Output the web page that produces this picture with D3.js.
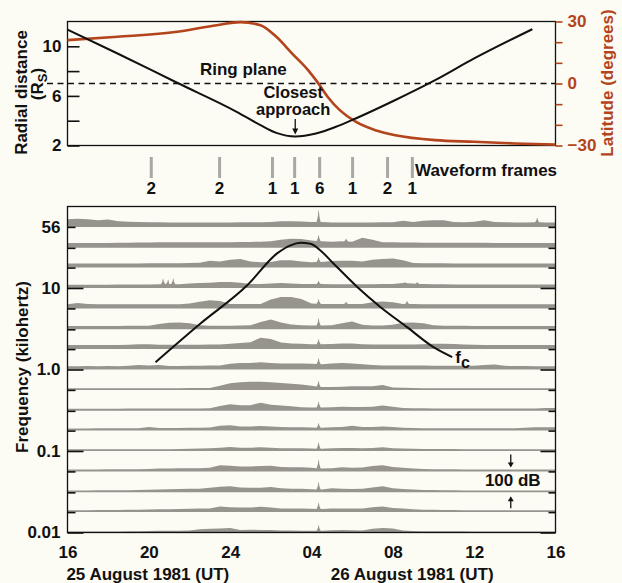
<!DOCTYPE html>
<html><head><meta charset="utf-8">
<script src="https://cdn.jsdelivr.net/npm/d3@7"></script>
<style>
html,body{margin:0;padding:0;background:#fcfbf4;}
svg{display:block;}
text{font-family:"Liberation Sans",Arial,Helvetica,sans-serif;font-weight:bold;}
</style></head><body>
<svg id="chart" width="622" height="583"></svg>
<script>
// ---------------- DATA ----------------
// time axis: hours after 16:00 UT, 25 August 1981
const hourTicks = [0,4,8,12,16,20,24];
const hourLabels = ["16","20","24","04","08","12","16"];
const dayLabels = ["25 August 1981 (UT)","26 August 1981 (UT)"];
const dayLabelT = [3.95,16.95];

// top panel: radial distance (Rs)
const radialT = [0,2.46,5.39,8.32,9.49,10.27,11.2,12.22,13.2,14.17,16.1,18.08,20.0,22.86];
const radialR = [11.35,9.42,7.06,4.72,3.64,3.02,2.73,2.97,3.51,4.18,5.65,7.27,9.02,11.38];
const radialTicks = [2,4,6,8,10];
const radialLabels = [2,6,10];
// top panel: latitude (degrees)
const latT = [0,2.46,5.39,7.34,8.5,9.49,10.27,11.05,11.83,12.32,12.8,13.39,14.17,15.14,16.12,18.08,20.0,21.98,24];
const latV = [21.0,22.6,25.0,28.2,29.7,28.2,22.6,14.5,6.5,0.3,-6.5,-12.9,-18.5,-22.6,-25.0,-27.4,-28.2,-29.0,-29.6];
const latTicks = [-30,-20,-10,0,10,20,30];
const latLabels = [-30,0,30];
const closestT = 11.2;

// waveform frames
const frameT = [4.12,7.48,10.08,11.17,12.4,14.02,15.74,16.96];
const frameN = ["2","2","1","1","6","1","2","1"];

// electron cyclotron frequency fc (kHz)
const fcT = [4.33,6.54,8.84,10.31,10.97,11.46,11.95,12.44,13.08,14.25,15.4,16.7,18.0,18.92];
const fcV = [1.23,3.67,10.8,26.6,33.4,35.8,35.0,28.9,20.0,10.3,5.82,3.31,1.88,1.42];

// spectrum analyzer channels (kHz)
const channelKHz = [0.01,0.0178,0.0311,0.0562,0.1,0.178,0.311,0.562,1,1.78,3.11,5.62,10,17.8,31.1,56.2];
const freqMajor = [0.01,0.1,1,10];
const freqLabelVal = [0.01,0.1,1,10,56.2];
const freqLabelTxt = ["0.01","0.1","1.0","10","56"];

// channel intensities (dB) sampled every 0.5 h from 16:00 (49 samples)
const sampleStep = 0.5;
const db10Hz   = [5,5,5,5,5,5,6,6,7,8, 8,9,10,16,18,20,22,12,14,12, 12,10,10,9,9,8,11,12,11,10, 18,22,20,10,7,6,6,6,6,6, 5,5,5,5,5,5,5,5,5];
const db17Hz   = [9,9,9,10,10,10,11,12,13,14, 14,15,16,17,18,28,24,22,22,26, 22,18,18,17,16,15,18,18,17,18, 24,28,20,17,14,12,11,10,10,9, 9,9,9,9,9,9,9,9,9];
const db31Hz   = [9,9,9,10,10,10,10,11,13,14, 15,16,17,18,22,28,30,24,22,22, 26,20,18,17,15,14,20,18,16,17, 24,30,20,16,14,12,11,10,10,9, 9,9,9,9,9,9,9,9,9];
const db56Hz   = [9,9,9,9,10,10,10,11,12,14, 14,15,16,16,18,30,28,24,24,26, 28,22,20,20,18,14,16,20,18,19, 26,30,22,18,14,12,11,10,10,9, 9,9,9,9,9,9,9,9,9];
const db100Hz  = [8,8,8,8,8,8,8,8,8,8, 9,10,11,12,13,16,20,16,16,18, 16,14,14,13,12,11,14,15,15,14, 15,18,14,12,11,10,10,10,10,9, 9,9,9,9,9,9,9,9,9];
const db178Hz  = [10,10,10,11,11,11,12,12,18,13, 13,13,14,14,15,24,26,20,20,22, 20,17,16,16,15,14,16,18,24,18, 17,20,18,14,13,12,12,12,12,12, 11,11,11,11,11,14,16,16,16];
const db311Hz  = [10,10,10,10,10,10,11,12,12,12, 12,12,12,12,13,24,32,28,28,40, 30,26,22,18,16,16,18,20,19,19, 20,26,20,14,13,13,12,12,12,12, 12,12,12,12,12,12,12,14,14];
const db562Hz  = [8,8,8,8,8,8,8,8,8,8, 8,8,9,9,9,20,32,38,40,40, 37,34,30,26,20,14,14,16,18,18, 18,24,12,10,9,8,8,8,8,8, 8,8,8,8,8,8,8,8,8];
const db1k     = [16,16,17,16,17,16,18,22,20,22, 17,17,18,18,19,20,28,32,32,36, 32,30,30,30,28,26,30,32,30,26, 22,20,20,19,19,19,18,18,18,18, 18,22,24,18,17,17,16,16,16];
const db1k78   = [20,20,20,20,20,20,21,24,24,21, 21,21,21,21,22,22,26,30,34,56, 50,32,28,26,24,24,25,28,28,24, 22,22,22,22,22,24,26,26,25,22, 21,20,20,20,20,20,20,20,20];
const db3k11   = [16,16,16,16,16,16,17,17,18,26, 32,33,30,20,18,18,18,19,20,36, 48,34,24,20,19,19,20,30,38,22, 19,19,22,32,33,30,20,17,17,17, 16,16,16,16,16,16,16,16,16];
const db5k62   = [20,26,22,20,20,20,20,20,20,20, 20,20,24,32,40,36,22,21,21,22, 44,56,56,46,24,22,22,22,21,21, 30,34,30,22,21,20,20,20,20,20, 20,20,20,20,20,20,20,20,20];
const db10k    = [16,16,16,16,16,17,17,17,17,18, 20,18,22,24,26,30,30,26,20,20, 22,24,22,20,19,19,18,18,18,18, 18,19,20,24,22,19,18,18,17,17, 17,17,17,17,17,17,17,17,17];
const db17k8   = [20,20,20,20,20,20,20,20,21,21, 21,21,22,24,34,30,38,42,30,26, 28,36,36,30,26,28,32,34,33,30, 38,42,44,36,22,21,21,21,20,20, 20,20,20,20,20,20,20,20,20];
const db31k1   = [24,24,24,24,24,25,25,26,26,27, 27,27,27,27,28,28,28,29,29,30, 32,40,44,43,36,32,30,32,30,50, 40,28,27,26,26,25,25,25,25,25, 25,25,24,24,24,24,24,24,24];
const db56k2   = [38,40,38,32,36,28,25,24,23,23, 22,22,22,22,22,22,22,23,23,23, 24,28,28,26,24,24,22,22,22,22, 22,23,23,30,24,30,32,32,24,23, 25,32,24,23,22,22,23,22,22];
// narrow spikes [hour, dB] per channel
const spikes10Hz=[[12.35,36]], spikes17Hz=[[12.35,46]], spikes31Hz=[[12.35,49]], spikes56Hz=[[12.35,57]];
const spikes100Hz=[[12.35,42]], spikes178Hz=[[12.35,36]], spikes311Hz=[[12.35,45]], spikes562Hz=[[12.35,44]];
const spikes1k=[[12.35,55]], spikes1k78=[[12.35,48]], spikes3k11=[[12.35,54]], spikes5k62=[[12.35,45],[13.7,32],[16.7,36]];
const spikes10k=[[4.7,45],[4.95,40],[5.2,46],[12.35,35],[16.6,28],[17.2,28]];
const spikes17k8=[[12.35,50]], spikes31k1=[[12.35,62],[13.7,45]], spikes56k2=[[12.35,82],[23.1,45]];

const channelDb = [db10Hz,db17Hz,db31Hz,db56Hz,db100Hz,db178Hz,db311Hz,db562Hz,db1k,db1k78,db3k11,db5k62,db10k,db17k8,db31k1,db56k2];
const channelSpikes = [spikes10Hz,spikes17Hz,spikes31Hz,spikes56Hz,spikes100Hz,spikes178Hz,spikes311Hz,spikes562Hz,spikes1k,spikes1k78,spikes3k11,spikes5k62,spikes10k,spikes17k8,spikes31k1,spikes56k2];

// ---------------- DRAWING ----------------
const RED = "#b3441c", GRAY = "#97938d";
const svg = d3.select("#chart");
svg.append("rect").attr("width",622).attr("height",583).attr("fill","#fcfbf4");

const x0 = 67.5, x1 = 555.5;
const x = d3.scaleLinear().domain([0,24]).range([x0,x1]);
const topY0 = 21.5, topY1 = 145.5;
const yR = d3.scaleLinear().domain([2,12]).range([topY1,topY0]);
const yLat = d3.scaleLinear().domain([-30,30]).range([topY1,topY0]);
const botY0 = 206.5, botY1 = 532.5;
const yF = d3.scaleLog().domain([0.01,100]).range([botY1,botY0]);

// ---- bottom panel strips
const pxPerDb = (yF(channelKHz[0]) - yF(channelKHz[1])) / 100;
const sampleT = channelDb[0].map((_,i)=>i*sampleStep);
function baseAt(arr,t){
  const p=t/sampleStep, i=Math.max(0,Math.min(arr.length-2,Math.floor(p))), f=p-i;
  return arr[i]*(1-f)+arr[i+1]*f;
}
const stripG = svg.append("g");
channelKHz.forEach((f,ci)=>{
  const arr = channelDb[ci];
  let pts = sampleT.map((t,i)=>({t, v:arr[i]}));
  channelSpikes[ci].forEach(([ts,s])=>{
    const bl = baseAt(arr,ts-0.1), br = baseAt(arr,ts+0.1);
    pts.push({t:ts-0.1,v:bl},{t:ts-0.035,v:(bl+s)/2},{t:ts-0.01,v:s},{t:ts+0.01,v:s},{t:ts+0.035,v:(br+s)/2},{t:ts+0.1,v:br});
  });
  pts.sort((a,b)=>a.t-b.t);
  const yb = yF(f);
  stripG.append("path").datum(pts)
    .attr("d", d3.area().x(d=>x(d.t)).y0(yb).y1(d=>yb - d.v*pxPerDb))
    .attr("fill", GRAY);
});

// boxes
svg.append("rect").attr("x",x0).attr("y",topY0).attr("width",x1-x0).attr("height",topY1-topY0)
  .attr("fill","none").attr("stroke","#111").attr("stroke-width",1.3);
svg.append("rect").attr("x",x0).attr("y",botY0).attr("width",x1-x0).attr("height",botY1-botY0)
  .attr("fill","none").attr("stroke","#111").attr("stroke-width",1.3);

function styleAxis(g,color){
  g.attr("font-size",17).attr("font-family",null);
  g.select(".domain").remove();
  g.selectAll(".tick line").attr("stroke",color).attr("stroke-width",1.6);
  g.selectAll(".tick text").attr("fill",color);
}

// top left axis
const gTL = svg.append("g").attr("transform",`translate(${x0},0)`)
  .call(d3.axisLeft(yR).tickValues(radialTicks).tickSize(-12).tickPadding(6)
    .tickFormat(d=>radialLabels.includes(d)?String(d):""));
styleAxis(gTL,"#111");
// top right axis
const gTR = svg.append("g").attr("transform",`translate(${x1},0)`)
  .call(d3.axisRight(yLat).tickValues(latTicks).tickSize(7).tickPadding(5)
    .tickFormat(d=>latLabels.includes(d)?(d<0?"\u2212"+(-d):String(d)):""));
styleAxis(gTR,RED);

// ring plane dashed line
svg.append("line").attr("x1",47).attr("x2",x1).attr("y1",yLat(0)).attr("y2",yLat(0))
  .attr("stroke","#111").attr("stroke-width",1.6).attr("stroke-dasharray","6,4.5");

// latitude curve
svg.append("path").datum(latT.map((t,i)=>[t,latV[i]]))
  .attr("d", d3.line().x(d=>x(d[0])).y(d=>yLat(d[1])).curve(d3.curveMonotoneX))
  .attr("fill","none").attr("stroke",RED).attr("stroke-width",2.6);
// radial distance curve
svg.append("path").datum(radialT.map((t,i)=>[t,radialR[i]]))
  .attr("d", d3.line().x(d=>x(d[0])).y(d=>yR(d[1])).curve(d3.curveMonotoneX))
  .attr("fill","none").attr("stroke","#111").attr("stroke-width",2);

// top annotations
svg.append("text").attr("x",x(8.65)).attr("y",yLat(0)-8.5).attr("text-anchor","middle")
  .attr("font-size",17).attr("fill","#111").text("Ring plane");
const cx = x(closestT)-2;
svg.append("text").attr("x",cx).attr("y",98).attr("text-anchor","middle")
  .attr("font-size",16.5).attr("fill","#111").text("Closest");
svg.append("text").attr("x",cx).attr("y",115).attr("text-anchor","middle")
  .attr("font-size",16.5).attr("fill","#111").text("approach");
const ax = x(closestT), tipY = yR(2.73)-2;
svg.append("line").attr("x1",ax).attr("x2",ax).attr("y1",119).attr("y2",tipY-4)
  .attr("stroke","#111").attr("stroke-width",1.3);
svg.append("path").attr("d",`M${ax-3},${tipY-6}L${ax+3},${tipY-6}L${ax},${tipY}Z`).attr("fill","#111");

// top axis titles
svg.append("text").attr("transform",`translate(26.5,92.5) rotate(-90)`).attr("text-anchor","middle")
  .attr("font-size",17).attr("fill","#111").text("Radial distance");
const rs = svg.append("text").attr("transform",`translate(42.5,84) rotate(-90)`).attr("text-anchor","middle")
  .attr("font-size",17).attr("fill","#111");
rs.append("tspan").text("(R");
rs.append("tspan").attr("font-size",13).attr("dy",4).text("S");
rs.append("tspan").attr("dy",-4).text(")");
svg.append("text").attr("transform",`translate(613,83) rotate(-90)`).attr("text-anchor","middle")
  .attr("font-size",17).attr("fill",RED).text("Latitude (degrees)");

// waveform frames
svg.append("g").selectAll("rect").data(frameT).join("rect")
  .attr("x",d=>x(d)-1.5).attr("y",157).attr("width",3).attr("height",21).attr("fill","#a9a8a4");
svg.append("g").selectAll("text").data(frameT).join("text")
  .attr("x",d=>x(d)).attr("y",194).attr("text-anchor","middle").attr("font-size",17).attr("fill","#111")
  .text((d,i)=>frameN[i]);
svg.append("text").attr("x",415).attr("y",176).attr("font-size",17).attr("fill","#111").text("Waveform frames");

// bottom left axis
const gBL = svg.append("g").attr("transform",`translate(${x0},0)`)
  .call(d3.axisLeft(yF).tickValues(channelKHz).tickSize(-8).tickPadding(7)
    .tickFormat(d=>{const i=freqLabelVal.indexOf(d);return i>=0?freqLabelTxt[i]:"";}));
styleAxis(gBL,"#111");
gBL.selectAll(".tick line").filter(d=>freqMajor.includes(d)).attr("x2",16);
// bottom right axis
const gBR = svg.append("g").attr("transform",`translate(${x1},0)`)
  .call(d3.axisRight(yF).tickValues(channelKHz).tickSize(-7).tickFormat(()=>""));
styleAxis(gBR,"#111");
gBR.selectAll(".tick line").filter(d=>freqMajor.includes(d)).attr("x2",-15);

// bottom x axis
const gX = svg.append("g").attr("transform",`translate(0,${botY1})`)
  .call(d3.axisBottom(x).tickValues(hourTicks).tickSize(0).tickPadding(13)
    .tickFormat((d,i)=>hourLabels[i]));
styleAxis(gX,"#111");
svg.append("g").selectAll("text").data(dayLabels).join("text")
  .attr("x",(d,i)=>x(dayLabelT[i])).attr("y",580).attr("text-anchor","middle")
  .attr("font-size",17).attr("fill","#111").text(d=>d);

svg.append("text").attr("transform",`translate(28,367) rotate(-90)`).attr("text-anchor","middle")
  .attr("font-size",17).attr("fill","#111").text("Frequency (kilohertz)");

// fc curve
svg.append("path").datum(fcT.map((t,i)=>[t,fcV[i]]))
  .attr("d", d3.line().x(d=>x(d[0])).y(d=>yF(d[1])).curve(d3.curveMonotoneX))
  .attr("fill","none").attr("stroke","#111").attr("stroke-width",2);
const fcl = svg.append("text").attr("x",x(fcT[fcT.length-1])+3).attr("y",yF(fcV[fcV.length-1])+6)
  .attr("font-size",17).attr("fill","#111");
fcl.append("tspan").text("f");
fcl.append("tspan").attr("dy",5).attr("font-size",16).text("c");

// 100 dB scale
const sx = x(21.8);
const yTopL = yF(0.0562), yBotL = yF(0.0311);
svg.append("line").attr("x1",sx).attr("x2",sx).attr("y1",yTopL-17).attr("y2",yTopL-8).attr("stroke","#111").attr("stroke-width",1.3);
svg.append("path").attr("d",`M${sx-3},${yTopL-9}L${sx+3},${yTopL-9}L${sx},${yTopL-4}Z`).attr("fill","#111");
svg.append("line").attr("x1",sx).attr("x2",sx).attr("y1",yBotL+16).attr("y2",yBotL+8).attr("stroke","#111").attr("stroke-width",1.3);
svg.append("path").attr("d",`M${sx-3},${yBotL+9}L${sx+3},${yBotL+9}L${sx},${yBotL+4}Z`).attr("fill","#111");
svg.append("text").attr("x",sx+2).attr("y",486).attr("text-anchor","middle").attr("font-size",17)
  .attr("fill","#111").text("100 dB");
</script>
</body></html>
